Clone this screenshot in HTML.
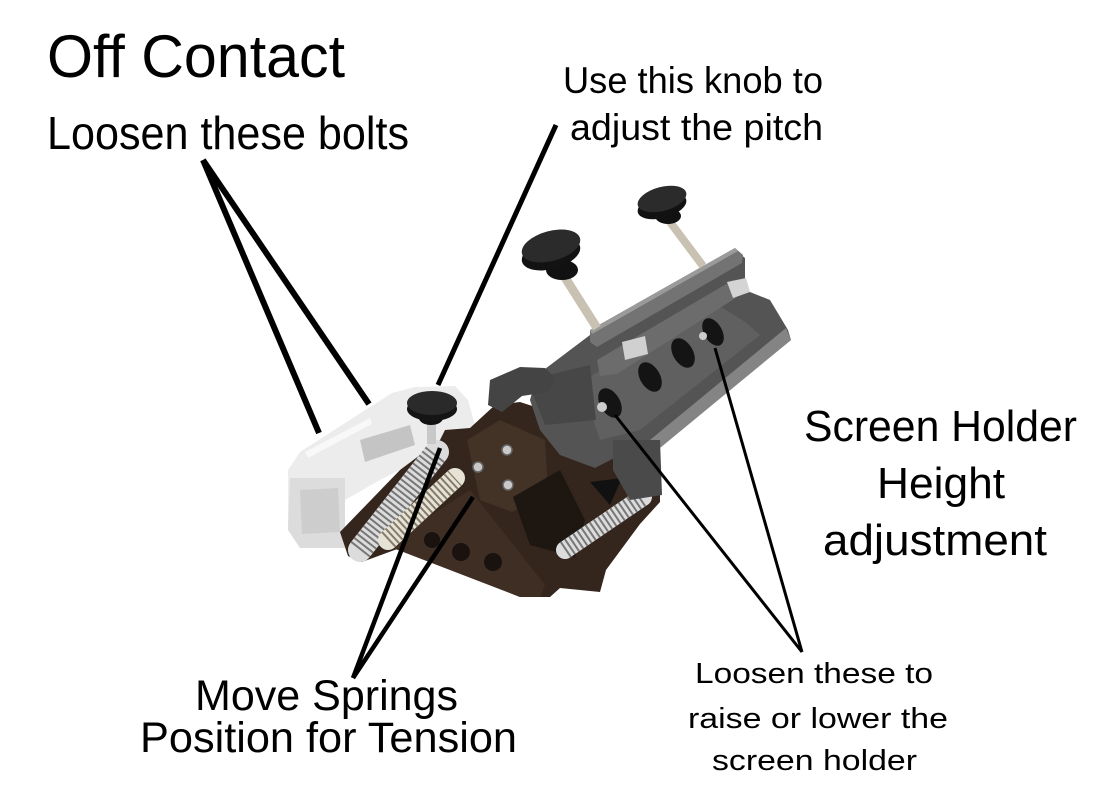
<!DOCTYPE html>
<html><head><meta charset="utf-8"><style>
html,body{margin:0;padding:0;background:#fff;}
svg{display:block;}
text{font-family:"Liberation Sans",sans-serif;fill:#000;}
</style></head><body>
<svg width="1100" height="786" viewBox="0 0 1100 786" xmlns="http://www.w3.org/2000/svg">
<rect width="1100" height="786" fill="#fff"/>

<!-- White clamp -->
<polygon points="288,470 300,452 370,407 392,393 415,387 455,386 468,400 475,425 470,440 440,450 380,480 345,500 340,548 300,548 288,530" fill="#ececec"/>
<polygon points="290,478 345,478 345,548 300,548 288,530" fill="#dcdcdc"/>
<polygon points="300,490 338,488 340,532 302,534" fill="#cdcdcd"/>
<polygon points="360,440 410,425 415,445 365,462" fill="#c4c4c4"/>
<polygon points="305,452 370,418 372,424 308,458" fill="#f8f8f8"/>

<!-- Brown body -->
<path d="M340,532 L348,556 L362,562 L400,548 L520,597 L550,597 L560,588 L600,592 L606,570 L640,524 L660,502 L660,470 L620,455 L590,440 L560,415 L520,402 L495,405 L470,428 L445,430 L440,440 L400,470 Z" fill="#34261d"/>
<polygon points="385,545 470,490 545,585 540,597 520,597" fill="#3f2e23"/>
<polygon points="467,440 500,420 545,440 548,492 512,512 480,500" fill="#433226"/>
<polygon points="513,497 560,470 585,520 575,557 530,545" fill="#1e1611"/>
<polygon points="590,482 622,478 610,505" fill="#111"/>
<circle cx="432" cy="540" r="8" fill="#1a120e"/>
<circle cx="461" cy="552" r="9" fill="#1a120e"/>
<circle cx="493" cy="562" r="9" fill="#1a120e"/>
<circle cx="507" cy="450" r="5" fill="#c8c8c8" stroke="#666" stroke-width="1.5"/>
<circle cx="478" cy="467" r="5" fill="#c8c8c8" stroke="#666" stroke-width="1.5"/>
<circle cx="508" cy="485" r="5" fill="#c8c8c8" stroke="#666" stroke-width="1.5"/>

<!-- Springs -->
<line x1="360" y1="550" x2="437" y2="452" stroke="#dcdcdc" stroke-width="24" stroke-linecap="round"/>
<line x1="360" y1="550" x2="437" y2="452" stroke="#777" stroke-width="24" stroke-dasharray="2 3"/>
<line x1="388" y1="540" x2="455" y2="478" stroke="#e6e2d6" stroke-width="20" stroke-linecap="round"/>
<line x1="388" y1="540" x2="455" y2="478" stroke="#857b6a" stroke-width="20" stroke-dasharray="2 3"/>
<line x1="565" y1="550" x2="643" y2="497" stroke="#dcdcdc" stroke-width="18" stroke-linecap="round"/>
<line x1="565" y1="550" x2="643" y2="497" stroke="#777" stroke-width="18" stroke-dasharray="2 3"/>

<!-- Pitch knob on clamp -->
<rect x="427" y="418" width="9" height="26" fill="#c8c8c8"/>
<ellipse cx="431" cy="418" rx="12" ry="7" fill="#111"/>
<ellipse cx="432" cy="409" rx="25" ry="12" fill="#151515"/>
<ellipse cx="432" cy="403" rx="25" ry="12" fill="#2a2a2a"/>

<!-- Gray holder -->
<polygon points="537,375 590,335 735,250 745,258 745,290 770,300 788,330 791,340 660,447 650,445 620,455 595,468 560,455 540,430 530,400" fill="#545454"/>
<polygon points="580,382 718,305 745,322 760,335 640,430 600,440" fill="#606060"/>
<polygon points="650,440 786,328 791,340 660,448" fill="#848484"/>
<polygon points="527,380 590,365 596,420 545,425" fill="#474747"/>
<polygon points="613,440 660,440 662,495 630,500 613,470" fill="#4a4a4a"/>
<ellipse cx="610" cy="403" rx="10" ry="16" transform="rotate(-30 610 403)" fill="#141414"/>
<ellipse cx="650" cy="377" rx="10" ry="16" transform="rotate(-30 650 377)" fill="#141414"/>
<ellipse cx="683" cy="353" rx="10" ry="16" transform="rotate(-30 683 353)" fill="#141414"/>
<ellipse cx="713" cy="332" rx="9" ry="15" transform="rotate(-30 713 332)" fill="#141414"/>
<circle cx="602" cy="407" r="5" fill="#ccc"/>
<circle cx="703" cy="336" r="4" fill="#ccc"/>
<!-- second bar -->
<polygon points="597,360 733,280 748,290 617,374 600,376" fill="#6c6c6c"/>
<polygon points="727,282 746,278 750,292 733,298" fill="#d4d4d4"/>
<polygon points="622,342 645,336 648,354 625,360" fill="#d0d0d0"/>
<!-- upper bar -->
<polygon points="590,330 735,248 743,255 742,263 597,347 590,342" fill="#737373"/>
<polygon points="590,330 735,248 738,251 592,334" fill="#9a9a9a"/>
<!-- handle -->
<polygon points="490,380 520,367 545,368 556,378 548,392 522,396 502,412 488,405" fill="#444"/>

<!-- Knobs -->
<line x1="564" y1="276" x2="597" y2="328" stroke="#c9c2b2" stroke-width="9"/>
<line x1="670" y1="222" x2="703" y2="266" stroke="#c9c2b2" stroke-width="8"/>
<ellipse cx="562" cy="270" rx="16" ry="10" fill="#111"/>
<ellipse cx="551" cy="254" rx="30" ry="15" transform="rotate(-15 551 254)" fill="#121212"/>
<ellipse cx="551" cy="246" rx="30" ry="15" transform="rotate(-15 551 246)" fill="#2b2b2b"/>
<ellipse cx="668" cy="216" rx="13" ry="8" fill="#111"/>
<ellipse cx="662" cy="206" rx="25" ry="12" transform="rotate(-15 662 206)" fill="#121212"/>
<ellipse cx="662" cy="199" rx="25" ry="12" transform="rotate(-15 662 199)" fill="#2b2b2b"/>

<!-- Leader lines -->
<g stroke="#000" stroke-linecap="butt" fill="none">
<line x1="203" y1="160" x2="319" y2="433" stroke-width="6"/>
<line x1="203" y1="160" x2="369" y2="404" stroke-width="6"/>
<line x1="556" y1="125" x2="438" y2="385" stroke-width="5"/>
<line x1="353" y1="678" x2="440" y2="448" stroke-width="4.5"/>
<line x1="353" y1="678" x2="473" y2="497" stroke-width="4.5"/>
<line x1="802" y1="652" x2="615" y2="415" stroke-width="3"/>
<line x1="802" y1="652" x2="715" y2="348" stroke-width="3"/>
</g>

<!-- Text -->
<text x="47" y="77" font-size="60" textLength="298" lengthAdjust="spacingAndGlyphs">Off Contact</text>
<text x="47" y="149" font-size="46" textLength="362" lengthAdjust="spacingAndGlyphs">Loosen these bolts</text>
<text x="563" y="93" font-size="37" textLength="260" lengthAdjust="spacingAndGlyphs">Use this knob to</text>
<text x="570" y="140" font-size="37" textLength="253" lengthAdjust="spacingAndGlyphs">adjust the pitch</text>
<text x="804" y="441" font-size="44" textLength="273" lengthAdjust="spacingAndGlyphs">Screen Holder</text>
<text x="877" y="498" font-size="44" textLength="128" lengthAdjust="spacingAndGlyphs">Height</text>
<text x="823" y="555" font-size="44" textLength="224" lengthAdjust="spacingAndGlyphs">adjustment</text>
<text x="695" y="683" font-size="29" textLength="238" lengthAdjust="spacingAndGlyphs">Loosen these to</text>
<text x="688" y="728" font-size="29" textLength="260" lengthAdjust="spacingAndGlyphs">raise or lower the</text>
<text x="712" y="770" font-size="29" textLength="205" lengthAdjust="spacingAndGlyphs">screen holder</text>
<text x="195" y="710" font-size="43" textLength="263" lengthAdjust="spacingAndGlyphs">Move Springs</text>
<text x="140" y="752" font-size="43" textLength="377" lengthAdjust="spacingAndGlyphs">Position for Tension</text>
</svg>
</body></html>
